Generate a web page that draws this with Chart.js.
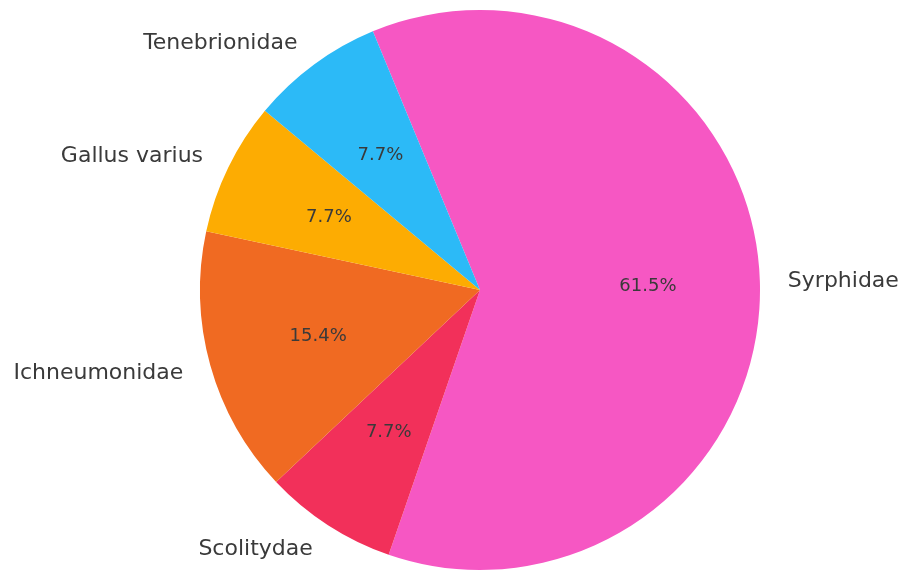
<!DOCTYPE html>
<html>
<head>
<meta charset="utf-8">
<script src="https://cdn.jsdelivr.net/npm/chart.js@4"></script>
<style>
  html, body { margin: 0; padding: 0; background: #fff; }
  #wrap { width: 904px; height: 573px; }
</style>
</head>
<body>
<div id="wrap"><canvas id="pie"></canvas></div>
<script>
// order is clockwise from the top edge of Syrphidae
const labels = ['Syrphidae', 'Scolitydae', 'Ichneumonidae', 'Gallus varius', 'Tenebrionidae'];
const counts = [8, 1, 2, 1, 1];
const colors = ['#f657c3', '#f2305a', '#f06a22', '#fdac02', '#2cbaf7'];

// draws matplotlib-like labels: names at 1.1r, percents at 0.6r
const pieLabels = {
  id: 'pieLabels',
  afterDatasetsDraw(chart) {
    const ctx = chart.ctx;
    const arcs = chart.getDatasetMeta(0).data;
    const total = counts.reduce((a, b) => a + b, 0);
    ctx.save();
    ctx.fillStyle = '#3a3a3a';
    ctx.textBaseline = 'middle';
    arcs.forEach((arc, i) => {
      const mid = (arc.startAngle + arc.endAngle) / 2;
      const r = arc.outerRadius;
      const c = Math.cos(mid), s = Math.sin(mid);

      ctx.font = '22px "DejaVu Sans"';
      ctx.textAlign = c > 0 ? 'left' : 'right';
      ctx.fillText(labels[i], arc.x + c * r * 1.1, arc.y + s * r * 1.1 + 1);

      ctx.font = '18px "DejaVu Sans"';
      ctx.textAlign = 'center';
      const pct = (counts[i] / total * 100).toFixed(1) + '%';
      ctx.fillText(pct, arc.x + c * r * 0.6, arc.y + s * r * 0.6 + 1);
    });
    ctx.restore();
  }
};

new Chart(document.getElementById('pie'), {
  type: 'pie',
  data: {
    labels: labels,
    datasets: [{
      data: counts,
      backgroundColor: colors,
      borderWidth: 0
    }]
  },
  options: {
    responsive: true,
    maintainAspectRatio: false,
    animation: false,
    rotation: -22.5,
    layout: { padding: { top: 10, bottom: 3, left: 200, right: 144 } },
    plugins: {
      legend: { display: false },
      tooltip: { enabled: false }
    }
  },
  plugins: [pieLabels]
});
</script>
</body>
</html>
